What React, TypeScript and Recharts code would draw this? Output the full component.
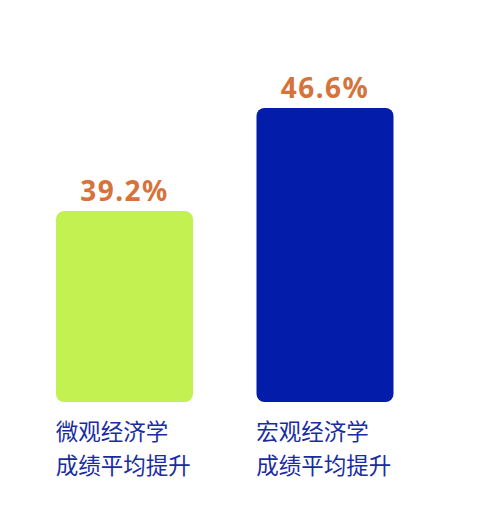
import React from "react";
import { Bar, BarChart, LabelList, XAxis, YAxis } from "recharts";

const categories = ["微观经济学", "宏观经济学"];
const subtitle = ["成绩平均提升", "成绩平均提升"];
const values = [39.2, 46.6];
const colors = ["#c3f152", "#031caa"];

const data = categories.map((name, i) => ({ name, sub: subtitle[i], value: values[i] }));

const BAR = 137;

function CategoryTick(props: any) {
  const { x, y, payload, index } = props;
  const left = x - BAR / 2;
  return (
    <g>
      <text x={left} y={y + 20} fill="#1a2ca3" fontSize={22.5} fontFamily="'Noto Sans CJK SC', sans-serif" dominantBaseline="central">
        {payload.value}
      </text>
      <text x={left} y={y + 54} fill="#1a2ca3" fontSize={22.5} fontFamily="'Noto Sans CJK SC', sans-serif" dominantBaseline="central">
        {subtitle[index]}
      </text>
    </g>
  );
}

export default function App() {
  return (
    <div style={{ position: "absolute", left: 0, top: 0, width: 483, height: 520, background: "#fff" }}>
      <BarChart width={483} height={520} data={data} margin={{ top: 108, right: 58, bottom: 0, left: 24 }}>
        <XAxis dataKey="name" axisLine={false} tickLine={false} height={118} interval={0} tick={<CategoryTick />} />
        <YAxis hide domain={[25.5, 46.6]} allowDataOverflow />
        <Bar dataKey="value" barSize={BAR} radius={8} isAnimationActive={false} shape={(p: any) => {
          const { x, y, width, height, index } = p;
          return <rect x={x} y={y} width={width} height={height} rx={8} ry={8} fill={colors[index]} />;
        }}>
          <LabelList
            dataKey="value"
            position="top"
            offset={10}
            formatter={(v: any) => `${v}%`}
            fill="#d6733b"
            fontSize={28}
            fontWeight={700}
            letterSpacing={1.5}
            fontFamily="'Noto Sans', sans-serif"
          />
        </Bar>
      </BarChart>
    </div>
  );
}
